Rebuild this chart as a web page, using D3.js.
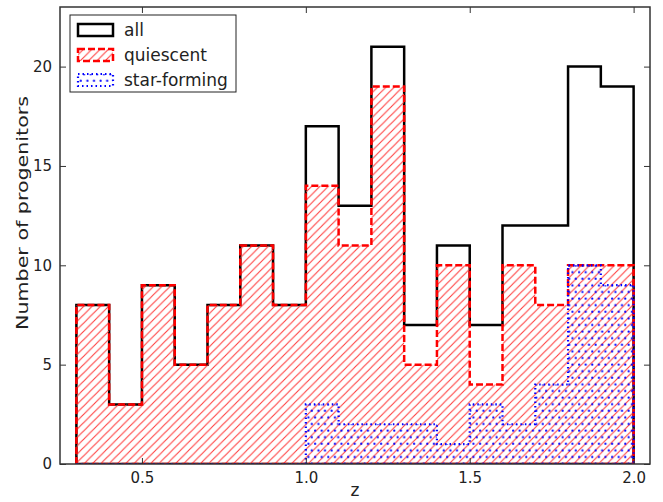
<!DOCTYPE html>
<html>
<head>
<meta charset="utf-8">
<script src="https://cdn.jsdelivr.net/npm/d3@7"></script>
<style>
  html, body { margin: 0; padding: 0; background: #fff; }
  svg { display: block; font-family: "DejaVu Sans", sans-serif; }
</style>
</head>
<body>
<svg id="chart" width="663" height="502"></svg>
<script>
// ---- data ----
const binEdges = [0.3, 0.4, 0.5, 0.6, 0.7, 0.8, 0.9, 1.0, 1.1, 1.2, 1.3, 1.4, 1.5, 1.6, 1.7, 1.8, 1.9, 2.0];
const allCounts        = [8, 3, 9, 5, 8, 11, 8, 17, 13, 21, 7, 11, 7, 12, 12, 20, 19];
const quiescentCounts  = [8, 3, 9, 5, 8, 11, 8, 14, 11, 19, 5, 10, 4, 10, 8, 10, 10];
const starFormingCounts= [0, 0, 0, 0, 0, 0, 0, 3, 2, 2, 2, 1, 3, 2, 4, 10, 9];
const seriesNames = ["all", "quiescent", "star-forming"];
const xTicks = [0.5, 1.0, 1.5, 2.0];
const yTicks = [0, 5, 10, 15, 20];
const xLabel = "z";
const yLabel = "Number of progenitors";

(function () {
// ---- layout ----
const svg = d3.select("#chart");
const pL = 60, pR = 650, pT = 7, pB = 464;
const x = d3.scaleLinear().domain([0.25, 2.05]).range([pL, pR]);
const y = d3.scaleLinear().domain([0, 23]).range([pB, pT]);

const defs = svg.append("defs");
// hatch '//' for quiescent
const hs = 8.3;
const hp = defs.append("pattern").attr("id", "hatchRed")
  .attr("patternUnits", "userSpaceOnUse").attr("width", hs).attr("height", hs);
hp.append("path").attr("d", `M${-hs/4},${hs/4} L${hs/4},${-hs/4} M0,${hs} L${hs},0 M${hs*0.75},${hs*1.25} L${hs*1.25},${hs*0.75}`)
  .style("stroke", "rgb(255,60,60)").style("stroke-width", "1.1px").style("fill", "none");
// dots '..' for star-forming
const ds = 6.6;
const dp = defs.append("pattern").attr("id", "dotsBlue")
  .attr("patternUnits", "userSpaceOnUse").attr("width", ds).attr("height", ds * 2);
dp.append("circle").attr("cx", 1.6).attr("cy", 1.6).attr("r", 1.1).style("fill", "rgb(0,0,255)");
dp.append("circle").attr("cx", 1.6 + ds / 2).attr("cy", 1.6 + ds).attr("r", 1.1).style("fill", "rgb(0,0,255)");

const clip = defs.append("clipPath").attr("id", "plotClip");
clip.append("rect").attr("x", pL).attr("y", pT).attr("width", pR - pL).attr("height", pB - pT);

function stepPath(counts) {
  const p = d3.path();
  p.moveTo(x(binEdges[0]), y(0));
  counts.forEach((c, i) => {
    p.lineTo(x(binEdges[i]), y(c));
    p.lineTo(x(binEdges[i + 1]), y(c));
  });
  p.lineTo(x(binEdges[binEdges.length - 1]), y(0));
  p.closePath();
  return p.toString();
}

const plot = svg.append("g").attr("clip-path", "url(#plotClip)");

// all
plot.append("path").attr("d", stepPath(allCounts))
  .attr("fill", "none").attr("stroke", "#000").attr("stroke-width", 2.5)
  .attr("stroke-linejoin", "miter");
// quiescent
plot.append("path").attr("d", stepPath(quiescentCounts))
  .attr("fill", "url(#hatchRed)").attr("stroke", "none");
plot.append("path").attr("d", stepPath(quiescentCounts))
  .attr("fill", "none").attr("stroke", "#ff0000").attr("stroke-width", 2.5)
  .attr("stroke-dasharray", "7,3");
// star-forming
plot.append("path").attr("d", stepPath(starFormingCounts))
  .attr("fill", "url(#dotsBlue)").attr("stroke", "none");
plot.append("path").attr("d", stepPath(starFormingCounts))
  .attr("fill", "none").attr("stroke", "#0000ff").attr("stroke-width", 2.2)
  .attr("stroke-dasharray", "1.5,3");

// ---- axes ----
const axisColor = "#333";
const tickLen = 6;
const fmtX = d3.format(".1f");

const xAxisB = svg.append("g").attr("transform", `translate(0,${pB})`)
  .call(d3.axisBottom(x).tickValues(xTicks).tickFormat(fmtX).tickSizeInner(-tickLen).tickSizeOuter(0).tickPadding(8));
const xAxisT = svg.append("g").attr("transform", `translate(0,${pT})`)
  .call(d3.axisTop(x).tickValues(xTicks).tickFormat("").tickSizeInner(-tickLen).tickSizeOuter(0));
const yAxisL = svg.append("g").attr("transform", `translate(${pL},0)`)
  .call(d3.axisLeft(y).tickValues(yTicks).tickSizeInner(-tickLen).tickSizeOuter(0).tickPadding(8));
const yAxisR = svg.append("g").attr("transform", `translate(${pR},0)`)
  .call(d3.axisRight(y).tickValues(yTicks).tickFormat("").tickSizeInner(-tickLen).tickSizeOuter(0));

[xAxisB, xAxisT, yAxisL, yAxisR].forEach(g => {
  g.select(".domain").remove();
  g.selectAll(".tick line").attr("stroke", axisColor).attr("stroke-width", 1);
  g.selectAll(".tick text").attr("fill", "#222").attr("font-size", 15)
    .attr("font-family", "DejaVu Sans");
});

// frame
svg.append("rect").attr("x", pL).attr("y", pT).attr("width", pR - pL).attr("height", pB - pT)
  .attr("fill", "none").attr("stroke", axisColor).attr("stroke-width", 1.5);

// axis labels
svg.append("text").attr("x", (pL + pR) / 2).attr("y", 496)
  .attr("text-anchor", "middle").attr("font-size", 17).attr("fill", "#222").text(xLabel);
svg.append("text").attr("transform", "translate(28,213) rotate(-90)")
  .attr("text-anchor", "middle").attr("font-size", 16).attr("fill", "#222")
  .attr("textLength", 234).attr("lengthAdjust", "spacingAndGlyphs").text(yLabel);

// ---- legend ----
const lg = svg.append("g");
lg.append("rect").attr("x", 70).attr("y", 15).attr("width", 166).attr("height", 77)
  .attr("fill", "#fff").attr("stroke", "#222").attr("stroke-width", 1);
const legendStyles = [
  { fill: "none", stroke: "#000", dash: null, sw: 2.5 },
  { fill: "url(#hatchRed)", stroke: "#ff0000", dash: "7,3", sw: 2.5 },
  { fill: "url(#dotsBlue)", stroke: "#0000ff", dash: "1.5,3", sw: 2.2 }
];
seriesNames.forEach((name, i) => {
  const cy = 30 + i * 25;
  const s = legendStyles[i];
  lg.append("rect").attr("x", 78).attr("y", cy - 6).attr("width", 35).attr("height", 12)
    .attr("fill", s.fill).attr("stroke", s.stroke).attr("stroke-width", s.sw)
    .attr("stroke-dasharray", s.dash);
  lg.append("text").attr("x", 124).attr("y", cy).attr("dy", "0.35em")
    .attr("font-size", 17).attr("fill", "#222").text(name);
});
})();
</script>
</body>
</html>
